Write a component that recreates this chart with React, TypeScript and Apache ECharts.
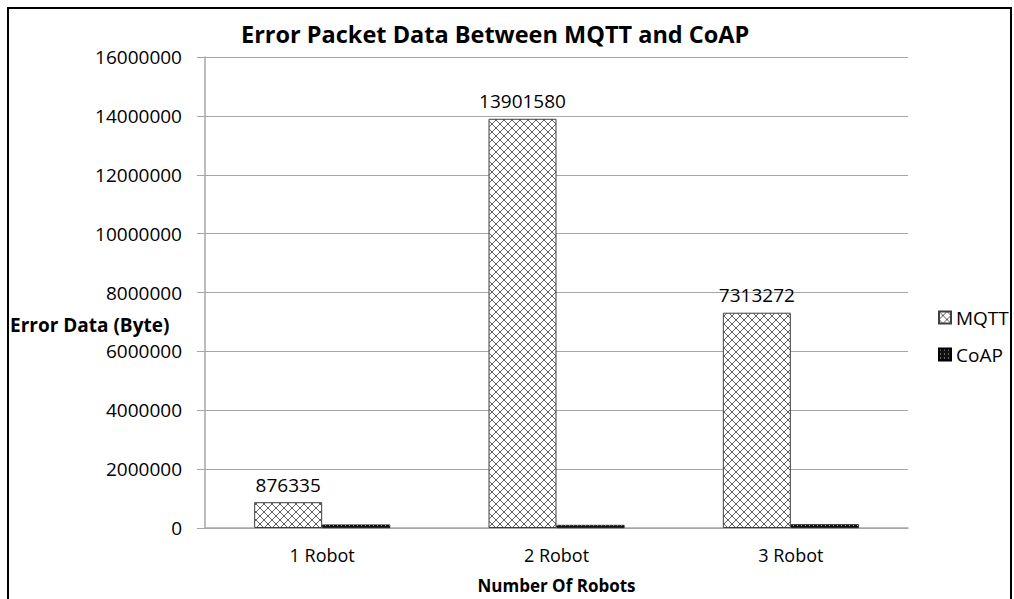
import React, { useEffect, useRef } from "react";
import * as echarts from "echarts";

const categories = ["1 Robot", "2 Robot", "3 Robot"];
const mqttValues = [876335, 13901580, 7313272];
const coapValues = [115000, 105000, 125000];
const seriesNames = ["MQTT", "CoAP"];
const yTicks = { min: 0, max: 16000000, interval: 2000000 };

function makeCrossHatch(): HTMLCanvasElement {
  const c = document.createElement("canvas");
  c.width = 8;
  c.height = 8;
  const ctx = c.getContext("2d")!;
  ctx.fillStyle = "#ffffff";
  ctx.fillRect(0, 0, 8, 8);
  ctx.strokeStyle = "#606060";
  ctx.lineWidth = 1;
  ctx.beginPath();
  ctx.moveTo(0, 0);
  ctx.lineTo(8, 8);
  ctx.moveTo(8, 0);
  ctx.lineTo(0, 8);
  ctx.stroke();
  return c;
}

function makeDots(): HTMLCanvasElement {
  const c = document.createElement("canvas");
  c.width = 4;
  c.height = 4;
  const ctx = c.getContext("2d")!;
  ctx.fillStyle = "#111111";
  ctx.fillRect(0, 0, 4, 4);
  ctx.fillStyle = "#bbbbbb";
  ctx.fillRect(1, 1, 1, 1);
  return c;
}

export default function App() {
  const ref = useRef<HTMLDivElement>(null);
  useEffect(() => {
    if (!ref.current) return;
    const chart = echarts.init(ref.current, null, { renderer: "svg" });
    const hatch = makeCrossHatch();
    const dots = makeDots();
    const font = "'Open Sans', 'Noto Sans', sans-serif";
    chart.setOption({
      animation: false,
      backgroundColor: "#ffffff",
      title: {
        text: "Error Packet Data Between MQTT and CoAP",
        left: 236,
        top: 17,
        textStyle: { fontFamily: font, fontWeight: "bold", fontSize: 23.5, color: "#000" },
      },
      legend: {
        orient: "vertical",
        left: 933,
        top: 302,
        itemWidth: 12,
        itemHeight: 12,
        itemGap: 16,
        icon: "rect",
        data: seriesNames,
        textStyle: { fontFamily: font, fontSize: 19, color: "#000", lineHeight: 21 },
      },
      grid: { left: 205, right: 106, top: 57, bottom: 65 },
      xAxis: {
        type: "category",
        data: categories,
        name: "Number Of Robots",
        nameLocation: "middle",
        nameGap: 49,
        nameTextStyle: { fontFamily: font, fontWeight: "bold", fontSize: 17, color: "#000" },
        axisLine: { lineStyle: { color: "#a6a6a6", width: 1.5 } },
        axisTick: { show: false },
        axisLabel: { fontFamily: font, fontSize: 18, color: "#000", margin: 18 },
      },
      yAxis: {
        type: "value",
        min: yTicks.min,
        max: yTicks.max,
        interval: yTicks.interval,
        axisLine: { show: true, lineStyle: { color: "#a6a6a6", width: 1.5 } },
        axisTick: { show: true, length: 8, lineStyle: { color: "#a6a6a6" } },
        splitLine: { lineStyle: { color: "#a6a6a6", width: 1 } },
        axisLabel: {
          fontFamily: font,
          fontSize: 19,
          color: "#000",
          margin: 23,
          formatter: (v: number) => String(v),
        },
      },
      series: [
        {
          name: seriesNames[0],
          type: "bar",
          data: mqttValues,
          barWidth: 68,
          barGap: "0%",
          itemStyle: {
            color: { image: hatch, repeat: "repeat" },
            borderColor: "#404040",
            borderWidth: 1,
          },
          label: {
            show: true,
            position: "top",
            distance: 8,
            fontFamily: font,
            fontSize: 19,
            color: "#000",
          },
        },
        {
          name: seriesNames[1],
          type: "bar",
          data: coapValues,
          barWidth: 68,
          barGap: "0%",
          itemStyle: {
            color: { image: dots, repeat: "repeat" },
            borderColor: "#000",
            borderWidth: 0.5,
          },
        },
      ],
      graphic: [
        {
          type: "text",
          left: 10,
          top: 315,
          style: {
            text: "Error Data (Byte)",
            font: "bold 19px 'Open Sans', sans-serif",
            fill: "#000",
          },
        },
        {
          type: "rect",
          shape: { x: 8, y: 8, width: 1003, height: 640 },
          style: { fill: "none", stroke: "#000", lineWidth: 2 },
          silent: true,
        },
      ],
    });
    return () => chart.dispose();
  }, []);
  return (
    <div
      ref={ref}
      style={{ position: "fixed", left: 0, top: 0, width: 1014, height: 599 }}
    />
  );
}
